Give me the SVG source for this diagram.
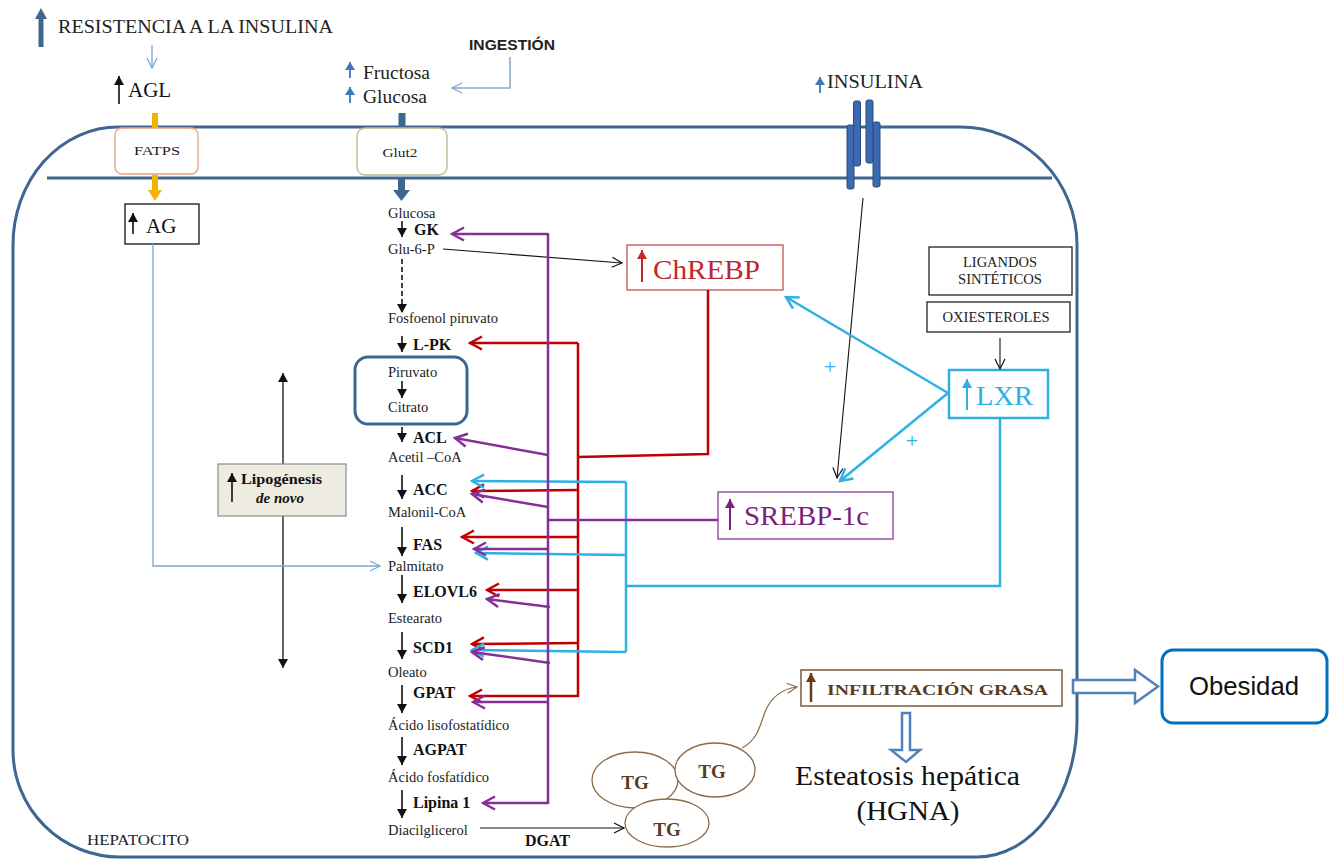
<svg xmlns="http://www.w3.org/2000/svg" width="1331" height="861" viewBox="0 0 1331 861">
<defs>
<style>
.serif{font-family:"Liberation Serif","DejaVu Serif",serif;}
.lbl{font-family:"Liberation Serif","DejaVu Serif",serif;font-size:14.5px;fill:#222;}
.enz{font-family:"Liberation Serif","DejaVu Serif",serif;font-size:16px;font-weight:bold;fill:#111;}
.mem{fill:none;stroke:#3f6690;stroke-width:3;}
.pur{fill:none;stroke:#862f97;stroke-width:2.5;}
.red{fill:none;stroke:#c00000;stroke-width:2.5;}
.cya{fill:none;stroke:#2eb0e4;stroke-width:2.5;}
.thin{fill:none;stroke:#111;stroke-width:1.1;}
.sm{fill:none;stroke:#111;stroke-width:1.6;}
.rec{fill:#3b6ab0;stroke:#2a4a7a;stroke-width:1;}
</style>
<marker id="mPur" markerUnits="userSpaceOnUse" markerWidth="16" markerHeight="16" viewBox="0 0 16 16" refX="14" refY="8" orient="auto"><path d="M2,1.5 L14,8 L2,14.5" fill="none" stroke="#862f97" stroke-width="2.5"/></marker>
<marker id="mRed" markerUnits="userSpaceOnUse" markerWidth="16" markerHeight="16" viewBox="0 0 16 16" refX="14" refY="8" orient="auto"><path d="M2,1.5 L14,8 L2,14.5" fill="none" stroke="#c00000" stroke-width="2.5"/></marker>
<marker id="mCya" markerUnits="userSpaceOnUse" markerWidth="16" markerHeight="16" viewBox="0 0 16 16" refX="14" refY="8" orient="auto"><path d="M2,1.5 L14,8 L2,14.5" fill="none" stroke="#2eb0e4" stroke-width="2.5"/></marker>
<marker id="mBlk" markerUnits="userSpaceOnUse" markerWidth="14" markerHeight="14" viewBox="0 0 14 14" refX="12" refY="7" orient="auto"><path d="M2,2 L12,7 L2,12" fill="none" stroke="#111" stroke-width="1.2"/></marker>
<marker id="mLb" markerUnits="userSpaceOnUse" markerWidth="14" markerHeight="14" viewBox="0 0 14 14" refX="12" refY="7" orient="auto"><path d="M2,2 L12,7 L2,12" fill="none" stroke="#7ea6d0" stroke-width="1.3"/></marker>
<marker id="mBrn" markerUnits="userSpaceOnUse" markerWidth="14" markerHeight="14" viewBox="0 0 14 14" refX="12" refY="7" orient="auto"><path d="M2,2 L12,7 L2,12" fill="none" stroke="#8c6b4c" stroke-width="1.2"/></marker>
<marker id="mSol" markerUnits="userSpaceOnUse" markerWidth="9" markerHeight="10" viewBox="0 0 9 10" refX="9" refY="5" orient="auto"><path d="M0,0 L9,5 L0,10 Z" fill="#111"/></marker>
<marker id="mSolB" markerUnits="userSpaceOnUse" markerWidth="8" markerHeight="10" viewBox="0 0 8 10" refX="8" refY="5" orient="auto"><path d="M0,0 L8,5 L0,10 Z" fill="#3f78b8"/></marker>
<marker id="mSolBr" markerUnits="userSpaceOnUse" markerWidth="9" markerHeight="10" viewBox="0 0 9 10" refX="9" refY="5" orient="auto"><path d="M0,0 L9,5 L0,10 Z" fill="#6b3a12"/></marker>
<marker id="mSolR" markerUnits="userSpaceOnUse" markerWidth="9" markerHeight="10" viewBox="0 0 9 10" refX="9" refY="5" orient="auto"><path d="M0,0 L9,5 L0,10 Z" fill="#c0282d"/></marker>
<marker id="mSolP" markerUnits="userSpaceOnUse" markerWidth="9" markerHeight="10" viewBox="0 0 9 10" refX="9" refY="5" orient="auto"><path d="M0,0 L9,5 L0,10 Z" fill="#7b1f7f"/></marker>
<marker id="mSolC" markerUnits="userSpaceOnUse" markerWidth="9" markerHeight="10" viewBox="0 0 9 10" refX="9" refY="5" orient="auto"><path d="M0,0 L9,5 L0,10 Z" fill="#2eb0e4"/></marker>
</defs>
<rect width="1331" height="861" fill="#ffffff"/>

<g id="cell">
<path class="mem" d="M118,127 L960,127 A117,118 0 0 1 1077,245 L1077,720 A100,137 0 0 1 977,857 L120,857 A107,107 0 0 1 13,750 L13,245 A105,118 0 0 1 118,127 Z"/>
<line class="mem" x1="47" y1="178" x2="1052" y2="178"/>
<text class="serif" x="87" y="845" font-size="14" fill="#222" textLength="102" lengthAdjust="spacingAndGlyphs">HEPATOCITO</text>
</g>

<g id="resistencia">
<polygon points="41,8 35,19 38.5,19 38.5,47 43.5,47 43.5,19 47,19" fill="#3f6690"/>
<text class="serif" x="58" y="33" font-size="19" fill="#222" textLength="275" lengthAdjust="spacingAndGlyphs">RESISTENCIA A LA INSULINA</text>
</g>

<g id="agl">
<line x1="119" y1="104" x2="119" y2="76" stroke="#111" stroke-width="1.6" marker-end="url(#mSol)"/>
<text class="serif" x="128" y="97" font-size="21" fill="#111">AGL</text>
</g>

<g id="fatps">
<rect x="152" y="113" width="6" height="15" fill="#f2b200"/>
<rect x="115" y="128" width="83" height="46" rx="7" fill="#fff" stroke="#e6a47a" stroke-width="1.3"/>
<text class="serif" x="157" y="155" font-size="13" text-anchor="middle" fill="#222" textLength="46" lengthAdjust="spacingAndGlyphs">FATPS</text>
<polygon points="152,175 158,175 158,190 162,190 155,201 148,190 152,190" fill="#f2b200"/>
</g>

<g id="ag">
<rect x="125" y="204" width="74" height="40" fill="#fff" stroke="#111" stroke-width="1.3"/>
<line x1="133" y1="234" x2="133" y2="213" stroke="#111" stroke-width="1.6" marker-end="url(#mSol)"/>
<text class="serif" x="146" y="233" font-size="21" fill="#111">AG</text>
</g>

<g id="azucares">
<line x1="350" y1="78" x2="350" y2="62" stroke="#3f78b8" stroke-width="1.8" marker-end="url(#mSolB)"/>
<text class="serif" x="363" y="79" font-size="18" fill="#222" textLength="67" lengthAdjust="spacingAndGlyphs">Fructosa</text>
<line x1="350" y1="103" x2="350" y2="87" stroke="#3f78b8" stroke-width="1.8" marker-end="url(#mSolB)"/>
<text class="serif" x="363" y="103" font-size="18" fill="#222" textLength="64" lengthAdjust="spacingAndGlyphs">Glucosa</text>
</g>

<g id="ingestion">
<text x="469" y="50" font-family="Liberation Sans, Arial, sans-serif" font-size="15" font-weight="bold" fill="#222" textLength="86" lengthAdjust="spacingAndGlyphs">INGESTIÓN</text>
</g>

<g id="glut2">
<rect x="398.5" y="113" width="7" height="15" fill="#3f6690"/>
<rect x="357" y="128" width="90" height="47" rx="8" fill="#fff" stroke="#b8b88e" stroke-width="1.3"/>
<text class="serif" x="400" y="157" font-size="13" text-anchor="middle" fill="#222" textLength="35" lengthAdjust="spacingAndGlyphs">Glut2</text>
<polygon points="398,179 405,179 405,190 410,190 401.5,201 393,190 398,190" fill="#3f6690"/>
</g>

<g id="insulina">
<line x1="820" y1="93" x2="820" y2="77" stroke="#3f78b8" stroke-width="1.8" marker-end="url(#mSolB)"/>
<text class="serif" x="827" y="88" font-size="18" fill="#222" textLength="96" lengthAdjust="spacingAndGlyphs">INSULINA</text>
<rect class="rec" x="847" y="125" width="7" height="64" rx="2"/>
<rect class="rec" x="853.5" y="101" width="7" height="65" rx="2"/>
<rect class="rec" x="873" y="122" width="7" height="65" rx="2"/>
<rect class="rec" x="866" y="100" width="7" height="63" rx="2"/>
</g>

<g id="pathway">
<text class="lbl" x="388" y="218">Glucosa</text>
<text class="enz" x="414" y="235">GK</text>
<text class="lbl" x="388" y="254">Glu-6-P</text>
<text class="lbl" x="388" y="323">Fosfoenol piruvato</text>
<text class="enz" x="413" y="350">L-PK</text>
<text class="enz" x="413" y="443">ACL</text>
<text class="lbl" x="388" y="462">Acetil –CoA</text>
<text class="enz" x="413" y="495">ACC</text>
<text class="lbl" x="388" y="517">Malonil-CoA</text>
<text class="enz" x="413" y="550">FAS</text>
<text class="lbl" x="388" y="571">Palmitato</text>
<text class="enz" x="413" y="597">ELOVL6</text>
<text class="lbl" x="388" y="623">Estearato</text>
<text class="enz" x="413" y="653">SCD1</text>
<text class="lbl" x="388" y="677">Oleato</text>
<text class="enz" x="413" y="698">GPAT</text>
<text class="lbl" x="388" y="730">Ácido lisofostatídico</text>
<text class="enz" x="413" y="755">AGPAT</text>
<text class="lbl" x="388" y="782">Ácido fosfatídico</text>
<text class="enz" x="413" y="808">Lipina 1</text>
<text class="lbl" x="388" y="835">Diacilglicerol</text>
<text class="enz" x="525" y="846">DGAT</text>
<line class="sm" x1="402" y1="221" x2="402" y2="237" marker-end="url(#mSol)"/>
<line class="sm" x1="402" y1="259" x2="402" y2="313" stroke-dasharray="5,3" marker-end="url(#mSol)"/>
<line class="sm" x1="402" y1="336" x2="402" y2="352" marker-end="url(#mSol)"/>
<line class="sm" x1="402" y1="427" x2="402" y2="442" marker-end="url(#mSol)"/>
<line class="sm" x1="402" y1="475" x2="402" y2="499" marker-end="url(#mSol)"/>
<line class="sm" x1="402" y1="527" x2="402" y2="556" marker-end="url(#mSol)"/>
<line class="sm" x1="402" y1="575" x2="402" y2="603" marker-end="url(#mSol)"/>
<line class="sm" x1="402" y1="632" x2="402" y2="659" marker-end="url(#mSol)"/>
<line class="sm" x1="402" y1="685" x2="402" y2="713" marker-end="url(#mSol)"/>
<line class="sm" x1="402" y1="737" x2="402" y2="765" marker-end="url(#mSol)"/>
<line class="sm" x1="402" y1="790" x2="402" y2="818" marker-end="url(#mSol)"/>
</g>

<g id="mitocondria">
<rect x="355" y="357" width="112" height="67" rx="13" fill="none" stroke="#3f6690" stroke-width="3"/>
<text class="lbl" x="388" y="377">Piruvato</text>
<line class="sm" x1="402" y1="381" x2="402" y2="398" marker-end="url(#mSol)"/>
<text class="lbl" x="388" y="412">Citrato</text>
</g>

<g id="lipogenesis">
<line x1="283" y1="385" x2="283" y2="464" stroke="#111" stroke-width="1.3"/>
<line x1="283" y1="385" x2="283" y2="373" stroke="#111" stroke-width="1.3" marker-end="url(#mSol)"/>
<line x1="283" y1="516" x2="283" y2="668" stroke="#111" stroke-width="1.3" marker-end="url(#mSol)"/>
<rect x="218" y="464" width="128" height="52" fill="#eeece1" stroke="#8a8a8a" stroke-width="1.2"/>
<line x1="232" y1="502" x2="232" y2="473" stroke="#111" stroke-width="1.6" marker-end="url(#mSol)"/>
<text class="serif" x="241" y="484" font-size="15" font-weight="bold" fill="#111" textLength="81" lengthAdjust="spacingAndGlyphs">Lipogénesis</text>
<text class="serif" x="280" y="503" font-size="15" font-weight="bold" font-style="italic" fill="#111" text-anchor="middle">de novo</text>
</g>

<g id="chrebp">
<rect x="627" y="245" width="156" height="45" fill="#fff" stroke="#c0504d" stroke-width="1.3"/>
<line x1="642" y1="282" x2="642" y2="250" stroke="#c0282d" stroke-width="2" marker-end="url(#mSolR)"/>
<text class="serif" x="653" y="279" font-size="28" fill="#c0282d" textLength="107" lengthAdjust="spacingAndGlyphs">ChREBP</text>
</g>

<g id="srebp">
<rect x="718" y="492" width="175" height="47" fill="#fff" stroke="#8b3a9b" stroke-width="1.3"/>
<line x1="730" y1="530" x2="730" y2="499" stroke="#7b1f7f" stroke-width="2" marker-end="url(#mSolP)"/>
<text class="serif" x="744" y="525" font-size="28" fill="#7b1f7f" textLength="125" lengthAdjust="spacingAndGlyphs">SREBP-1c</text>
</g>

<g id="lxr">
<rect x="949" y="370" width="99" height="48" fill="#fff" stroke="#2eb0e4" stroke-width="2.5"/>
<line x1="967" y1="410" x2="967" y2="379" stroke="#2eb0e4" stroke-width="2" marker-end="url(#mSolC)"/>
<text class="serif" x="976" y="405" font-size="28" fill="#2eb0e4" textLength="57" lengthAdjust="spacingAndGlyphs">LXR</text>
</g>

<g id="ligandos">
<rect x="929" y="247" width="143" height="48" fill="#fff" stroke="#111" stroke-width="1.2"/>
<text class="serif" x="1000" y="267" font-size="14" text-anchor="middle" fill="#222" textLength="74" lengthAdjust="spacingAndGlyphs">LIGANDOS</text>
<text class="serif" x="1000" y="284" font-size="14" text-anchor="middle" fill="#222" textLength="84" lengthAdjust="spacingAndGlyphs">SINTÉTICOS</text>
</g>

<g id="oxiesteroles">
<rect x="927" y="302" width="143" height="30" fill="#fff" stroke="#111" stroke-width="1.2"/>
<text class="serif" x="996" y="322" font-size="14" text-anchor="middle" fill="#222" textLength="107" lengthAdjust="spacingAndGlyphs">OXIESTEROLES</text>
</g>

<g id="tg">
<ellipse cx="635" cy="780" rx="43" ry="28" fill="#fff" stroke="#8c6b4c" stroke-width="1.3"/>
<ellipse cx="715" cy="770" rx="40" ry="27" fill="#fff" stroke="#8c6b4c" stroke-width="1.3"/>
<ellipse cx="667" cy="823" rx="42" ry="24" fill="#fff" stroke="#8c6b4c" stroke-width="1.3"/>
<text class="serif" x="635" y="789" font-size="19" font-weight="bold" text-anchor="middle" fill="#5b3b1e">TG</text>
<text class="serif" x="712" y="778" font-size="19" font-weight="bold" text-anchor="middle" fill="#5b3b1e">TG</text>
<text class="serif" x="667" y="836" font-size="19" font-weight="bold" text-anchor="middle" fill="#5b3b1e">TG</text>
</g>

<g id="infiltracion">
<rect x="801" y="670" width="261" height="36" fill="#fff" stroke="#7b5b3b" stroke-width="1.5"/>
<line x1="811" y1="702" x2="811" y2="673" stroke="#6b3a12" stroke-width="2.5" marker-end="url(#mSolBr)"/>
<text class="serif" x="827" y="695" font-size="15" font-weight="bold" fill="#5b3b1e" textLength="221" lengthAdjust="spacingAndGlyphs">INFILTRACIÓN GRASA</text>
</g>

<g id="esteatosis">
<polygon points="902,713 910,713 910,750 920,750 906,762 891,750 902,750" fill="#fff" stroke="#4f81bd" stroke-width="2.5" stroke-linejoin="miter"/>
<text class="serif" x="795" y="785" font-size="27" fill="#111" textLength="225" lengthAdjust="spacingAndGlyphs">Esteatosis hepática</text>
<text class="serif" x="908" y="820" font-size="27" fill="#111" text-anchor="middle" textLength="103" lengthAdjust="spacingAndGlyphs">(HGNA)</text>
</g>

<g id="obesidad">
<polygon points="1073,680 1135,680 1135,670 1158,686.5 1135,703 1135,693 1073,693" fill="#fff" stroke="#4f81bd" stroke-width="2.5"/>
<rect x="1162" y="650" width="165" height="73" rx="11" fill="#fff" stroke="#0070c0" stroke-width="3"/>
<text x="1244" y="695" font-family="Liberation Sans, Arial, sans-serif" font-size="25" text-anchor="middle" fill="#111" textLength="110" lengthAdjust="spacingAndGlyphs">Obesidad</text>
</g>

<g id="connectors">
<line x1="152" y1="45" x2="152" y2="68" stroke="#7ea6d0" stroke-width="1.3" marker-end="url(#mLb)"/>
<polyline points="510,57 510,88 452,88" fill="none" stroke="#8fa9c8" stroke-width="1.6" marker-end="url(#mLb)"/>
<polyline points="153,244 153,566 380,566" fill="none" stroke="#7ea6d0" stroke-width="1.3" marker-end="url(#mLb)"/>
<line class="thin" x1="443" y1="249" x2="622" y2="263" marker-end="url(#mBlk)"/>
<line class="thin" x1="863" y1="198" x2="837" y2="478" marker-end="url(#mBlk)"/>
<line class="thin" x1="1000" y1="338" x2="1000" y2="369" marker-end="url(#mBlk)"/>
<line class="thin" x1="480" y1="828" x2="624" y2="828" marker-end="url(#mBlk)"/>
<path d="M742,748 C758,740 760,725 765,712 C771,697 781,689 797,687" fill="none" stroke="#8c6b4c" stroke-width="1.2" marker-end="url(#mBrn)"/>

<path class="red" d="M708,290 L708,454 L578,457"/>
<line class="red" x1="578" y1="343" x2="578" y2="697"/>
<line class="red" x1="578" y1="343" x2="470" y2="343" marker-end="url(#mRed)"/>
<line class="red" x1="578" y1="490" x2="472" y2="491" marker-end="url(#mRed)"/>
<line class="red" x1="578" y1="537" x2="462" y2="537" marker-end="url(#mRed)"/>
<line class="red" x1="578" y1="590" x2="487" y2="590" marker-end="url(#mRed)"/>
<line class="red" x1="578" y1="643" x2="472" y2="644" marker-end="url(#mRed)"/>
<line class="red" x1="578" y1="696" x2="470" y2="696" marker-end="url(#mRed)"/>

<path class="cya" d="M1000,418 L1000,586 L626,586"/>
<line class="cya" x1="626" y1="482" x2="626" y2="652"/>
<line class="cya" x1="626" y1="482" x2="472" y2="481" marker-end="url(#mCya)"/>
<line class="cya" x1="626" y1="555" x2="476" y2="553" marker-end="url(#mCya)"/>
<line class="cya" x1="626" y1="652" x2="472" y2="650" marker-end="url(#mCya)"/>
<line class="cya" x1="948" y1="393" x2="786" y2="297" marker-end="url(#mCya)"/>
<line class="cya" x1="948" y1="393" x2="840" y2="481" marker-end="url(#mCya)"/>
<text class="serif" x="830" y="374" font-size="22" text-anchor="middle" fill="#2eb0e4">+</text>
<text class="serif" x="912" y="448" font-size="22" text-anchor="middle" fill="#2eb0e4">+</text>

<line class="pur" x1="548" y1="233" x2="548" y2="804"/>
<line class="pur" x1="548" y1="234" x2="452" y2="234" marker-end="url(#mPur)"/>
<line class="pur" x1="548" y1="455" x2="455" y2="438" marker-end="url(#mPur)"/>
<line class="pur" x1="548" y1="507" x2="472" y2="494" marker-end="url(#mPur)"/>
<line class="pur" x1="548" y1="520" x2="718" y2="520"/>
<line class="pur" x1="548" y1="549" x2="474" y2="549" marker-end="url(#mPur)"/>
<line class="pur" x1="550" y1="607" x2="487" y2="599" marker-end="url(#mPur)"/>
<line class="pur" x1="550" y1="663" x2="472" y2="652" marker-end="url(#mPur)"/>
<line class="pur" x1="548" y1="702" x2="473" y2="702" marker-end="url(#mPur)"/>
<line class="pur" x1="548" y1="803" x2="483" y2="803" marker-end="url(#mPur)"/>
</g>
</svg>
